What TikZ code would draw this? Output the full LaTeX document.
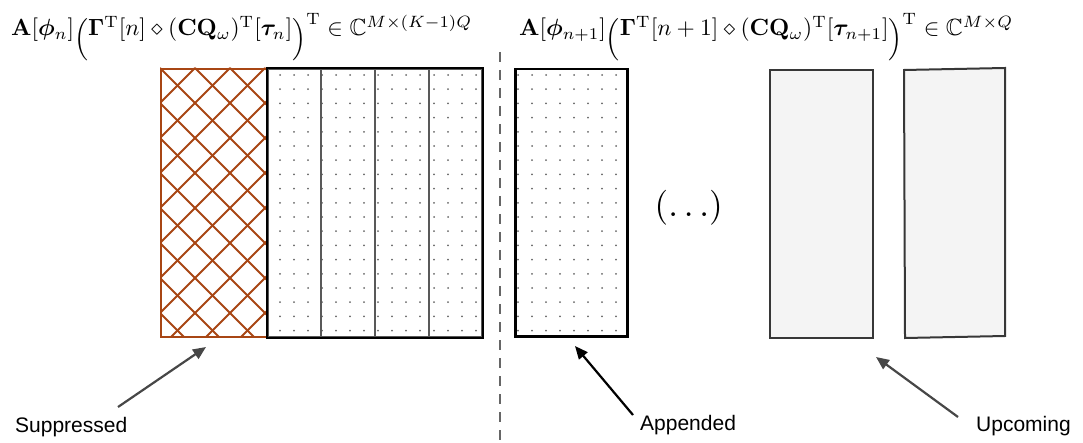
\documentclass[tikz,border=0pt]{standalone}
\usepackage{amsmath,amssymb,bm}
\usepackage{graphicx}
\usepackage[no-math]{fontspec}
\newfontfamily\labelfont{Liberation Sans}
\usetikzlibrary{arrows.meta}
\definecolor{hatchcol}{RGB}{168,70,20}
\definecolor{upfill}{RGB}{244,244,244}
\definecolor{upline}{RGB}{55,55,55}
\newcommand{\lowopen}{\raisebox{-0.42em}{$\Big($}}
\newcommand{\lowclose}{\raisebox{-0.42em}{$\Big)$}}
\tikzset{
  formula/.style={inner sep=0pt, anchor=base west},
  lbl/.style={font=\labelfont\fontsize{21}{25}\selectfont, inner sep=0pt, anchor=base west},
  hatchline/.style={line width=2pt, draw=hatchcol},
  dotmark/.style={fill=black!60},
  suppbox/.style={draw=hatchcol, line width=2pt, rectangle, inner sep=0pt, anchor=north west},
  colbox/.style={draw=black!65, line width=1.8pt, rectangle, inner sep=0pt, anchor=north west, minimum height=268pt},
  appbox/.style={draw=black, line width=2.5pt, rectangle, inner sep=0pt, anchor=north west},
  upbox/.style={draw=upline, fill=upfill, line width=2pt, rectangle, inner sep=0pt},
  upshape/.style={draw=upline, fill=upfill, line width=2pt, line join=miter},
  grpframe/.style={draw=black, line width=2.5pt},
  sepline/.style={draw=black!60, line width=1.8pt, dash pattern=on 10pt off 8pt},
  pointer/.style={-{Triangle[length=13pt,width=11pt]}, line width=2.2pt, draw=black!72, fill=black!72},
  pointerdark/.style={pointer, draw=black, fill=black},
}
\begin{document}
\begin{tikzpicture}[x=1pt,y=-1pt]
\useasboundingbox (0,0) rectangle (1083,443);

% formulas
\node[formula] (fl) at (11,36) {\resizebox{461pt}{!}{$\mathbf{A}[\bm{\phi}_n]\lowopen\bm{\Gamma}^{\mathrm{T}}[n]\diamond(\mathbf{C}\mathbf{Q}_{\omega})^{\mathrm{T}}[\bm{\tau}_n]{\lowclose}^{\mathrm{T}}\in\mathbb{C}^{M\times(K-1)Q}$}};
\node[formula] (fr) at (519,36) {\resizebox{494pt}{!}{$\mathbf{A}[\bm{\phi}_{n+1}]\lowopen\bm{\Gamma}^{\mathrm{T}}[n+1]\diamond(\mathbf{C}\mathbf{Q}_{\omega})^{\mathrm{T}}[\bm{\tau}_{n+1}]{\lowclose}^{\mathrm{T}}\in\mathbb{C}^{M\times Q}$}};

% hatch pattern of the suppressed block
\begin{scope}
  \clip (160,68) rectangle (267,336);
  \foreach \k in {-9,...,12} {
    \draw[hatchline] (160+35*\k,68) -- ++(300,300);
    \draw[hatchline] (160+35*\k,68) -- ++(-300,300);
  }
\end{scope}

% dots of the left group
\foreach \i in {0,...,14} {
  \foreach \j in {0,...,18} {
    \fill[dotmark] (280+14*\i,75+14.2*\j) circle (1pt);
  }
}
% dots of the appended block
\foreach \i in {0,...,7} {
  \foreach \j in {0,...,18} {
    \fill[dotmark] (518+14*\i,75+14.2*\j) circle (1pt);
  }
}

% blocks
\node[suppbox, minimum width=107pt, minimum height=268pt] (supp) at (160,68) {};
\node[colbox, minimum width=53pt] (c1) at (267,68) {};
\node[colbox, minimum width=54pt] (c2) at (320,68) {};
\node[colbox, minimum width=54pt] (c3) at (374,68) {};
\node[colbox, minimum width=53pt] (c4) at (428,68) {};
\draw[grpframe] (c1.north west) rectangle (c4.south east);
\node[appbox, minimum width=112pt, minimum height=267pt] (app) at (514,68) {};
\node[upbox, anchor=north west, minimum width=103pt, minimum height=268pt] (up1) at (769,69) {};
\coordinate (u2nw) at (904,70);
\coordinate (u2ne) at (1005,68);
\coordinate (u2se) at (1005,336);
\coordinate (u2sw) at (905,338);
\draw[upshape] (u2nw) -- (u2ne) -- (u2se) -- (u2sw) -- cycle;

% ellipsis
\node[scale=3.5, inner sep=0pt, anchor=base west] (dots) at (654,217) {$(\ldots)$};

% separator
\coordinate (sepTop) at (500,52);
\coordinate (sepBot) at (500,443);
\draw[sepline] (sepTop) -- (sepBot);

% labels
\node[lbl] (lsup) at (15,432) {Suppressed};
\node[lbl] (lapp) at (640,430) {Appended};
\node[lbl] (lup) at (976,431) {Upcoming};

% pointers
\coordinate (supTail) at (118,407);
\coordinate (supTip) at (206,347);
\coordinate (appTail) at (633,415);
\coordinate (appTip) at (575,346);
\coordinate (upTail) at (958,417);
\coordinate (upTip) at (876,357);
\draw[pointer] (supTail) -- (supTip);
\draw[pointerdark] (appTail) -- (appTip);
\draw[pointer] (upTail) -- (upTip);
\end{tikzpicture}
\end{document}
